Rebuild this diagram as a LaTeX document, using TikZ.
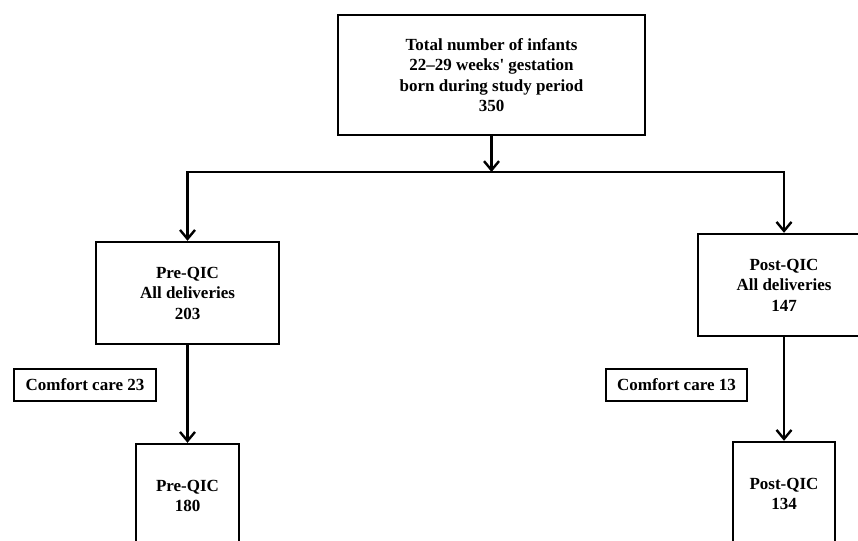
\documentclass[tikz,border=0pt]{standalone}
\usepackage{fontspec}
\setmainfont{Liberation Serif}
\usetikzlibrary{arrows.meta}
\begin{document}
\begin{tikzpicture}[x=1pt,y=-1pt,
  box/.style={draw, line width=2.4pt, inner sep=0pt, align=center,
    font=\fontsize{17}{20.5}\selectfont\bfseries},
  tip/.tip={Straight Barb[length=9pt,width=15pt,line width=2.4pt]},
  arr/.style={line width=2.4pt, -tip},
  arrboth/.style={line width=2.4pt, tip-tip}]
\useasboundingbox (0,0) rectangle (858,540);
\fill[white] (0,0) rectangle (858,540);
\clip (0,0) rectangle (858,540);
\node[box, minimum width=307pt, minimum height=120pt] (top) at (491.5,75)
  {Total number of infants\\22--29 weeks\textquotesingle\ gestation\\born during study period\\350};
\node[box, minimum width=183pt, minimum height=102pt] (pre) at (187.5,293)
  {Pre-QIC\\All deliveries\\203};
\node[box, minimum width=172pt, minimum height=102pt] (post) at (784,285)
  {Post-QIC\\All deliveries\\147};
\node[box, minimum width=142pt, minimum height=32pt] (cc1) at (85,385) {Comfort care 23};
\node[box, minimum width=141pt, minimum height=32pt] (cc2) at (676.5,385) {Comfort care 13};
\node[box, minimum width=103pt, minimum height=104pt] (pre2) at (187.5,496)
  {Pre-QIC\\180};
\node[box, minimum width=102pt, minimum height=104pt] (post2) at (784,494)
  {Post-QIC\\134};
\coordinate (jm) at (491.5,172);
\coordinate (jl) at (187.5,172);
\coordinate (jr) at (784,172);
\draw[arr] (top.south) -- (jm);
\draw[arrboth] (pre.north) -- (jl) -- (jr) -- (post.north);
\draw[arr] (pre.south) -- (pre2.north);
\draw[arr] (post.south) -- (post2.north);
\end{tikzpicture}
\end{document}
